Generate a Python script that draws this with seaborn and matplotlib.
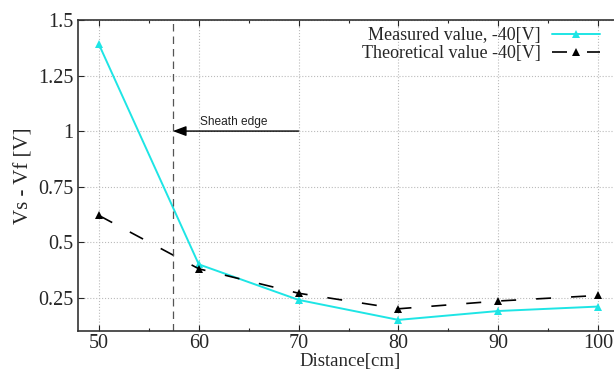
import matplotlib
matplotlib.use("Agg")
import matplotlib.pyplot as plt
import seaborn as sns
import pandas as pd
from matplotlib.ticker import FixedLocator, MultipleLocator

distance = [50, 60, 70, 80, 90, 100]
measured = [1.39, 0.40, 0.24, 0.15, 0.19, 0.21]
theoretical = [0.62, 0.38, 0.27, 0.20, 0.235, 0.26]
sheath_x = 57.4
x_ticks = [50, 60, 70, 80, 90, 100]
y_ticks = [0.25, 0.5, 0.75, 1.0, 1.25, 1.5]
y_tick_labels = ["0.25", "0.5", "0.75", "1", "1.25", "1.5"]

sns.set_style("ticks")
plt.rcParams['font.family'] = ['Liberation Serif', 'DejaVu Serif']

fig = plt.figure(figsize=(6.14, 3.71), dpi=100)
ax = fig.add_axes([78/614, 40/371, 544/614, 311/371])

df_m = pd.DataFrame({"x": distance, "y": measured})
df_t = pd.DataFrame({"x": distance, "y": theoretical})

sns.lineplot(data=df_m, x="x", y="y", ax=ax, color="#1ee5e5", lw=1.4,
             marker="^", markersize=6, markeredgewidth=0,
             label="Measured value, -40[V]")
sns.lineplot(data=df_t, x="x", y="y", ax=ax, color="black", lw=1.2,
             marker="^", markersize=6, markeredgewidth=0,
             dashes=False, label="Theoretical value -40[V]")
ax.lines[-1].set_dashes([9, 12])

ax.axvline(sheath_x, color="#555555", lw=0.9, dashes=[6, 4])
ax.annotate("", xy=(sheath_x, 1.0), xytext=(70, 1.0),
            arrowprops=dict(arrowstyle="-|>,head_length=0.8,head_width=0.3",
                            color="black", lw=1.0, shrinkA=0, shrinkB=0))
ax.text(60.1, 1.012, "Sheath edge", fontsize=8.6, family=["Liberation Sans", "DejaVu Sans"],
        ha="left", va="bottom", color="#222222")

ax.set_xlim(47.9, 102.4)
ax.set_ylim(0.1, 1.5)
ax.xaxis.set_major_locator(FixedLocator(x_ticks))
ax.xaxis.set_minor_locator(MultipleLocator(5))
ax.yaxis.set_major_locator(FixedLocator(y_ticks))
ax.set_yticklabels(y_tick_labels)
ax.grid(True, which="major", color="#bbbbbb", linestyle=":", lw=0.8)
ax.tick_params(direction="in", top=True, right=False, labelsize=14.5, length=4, width=0.8)
ax.tick_params(axis="x", pad=2)
ax.tick_params(which="minor", direction="in", top=True, length=2.5, width=0.8)
for s in ax.spines.values():
    s.set_linewidth(1.2)
    s.set_color("#333333")
ax.set_xlabel("Distance[cm]", fontsize=13.5, labelpad=0)
ax.set_ylabel("Vs - Vf [V]", fontsize=15, labelpad=3)

leg = ax.legend(loc="upper right", bbox_to_anchor=(0.98, 1.012), frameon=False,
                markerfirst=False, fontsize=13, handlelength=2.7,
                labelspacing=0.05, borderaxespad=0.2, handletextpad=0.6)

fig.savefig("out.png", dpi=100)
